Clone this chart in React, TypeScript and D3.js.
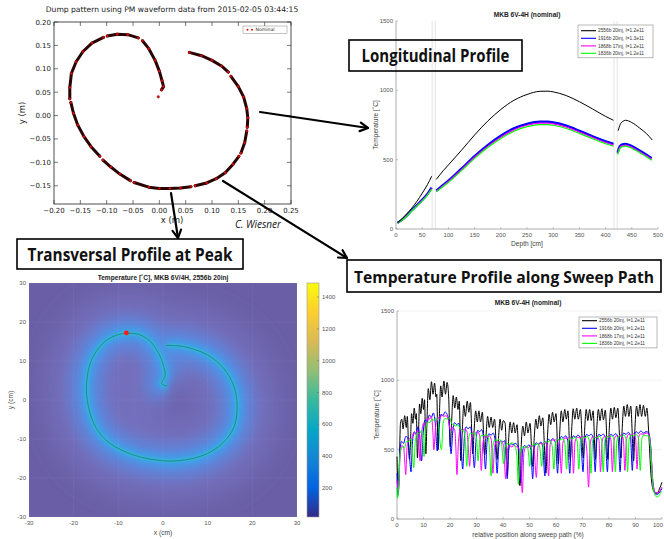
import React from 'react'
import * as d3 from 'd3'

type P = [number, number]

// ---------- dump pattern from PM waveform (metres) ----------
const dumpSegments: P[][] = [
  [[0.057, 0.135], [0.080, 0.128], [0.100, 0.118], [0.118, 0.106], [0.131, 0.093]],
  [[0.136, 0.084], [0.150, 0.062], [0.160, 0.040], [0.166, 0.015], [0.168, -0.005], [0.167, -0.025]],
  [[0.166, -0.033], [0.162, -0.058], [0.155, -0.080]],
  [[0.151, -0.087], [0.140, -0.104], [0.125, -0.122], [0.108, -0.135], [0.090, -0.144], [0.068, -0.150]],
  [[0.060, -0.152], [0.040, -0.155], [0.020, -0.156], [0.000, -0.156], [-0.020, -0.153], [-0.048, -0.143]],
  [[-0.055, -0.139], [-0.075, -0.125], [-0.092, -0.110], [-0.107, -0.095]],
  [[-0.113, -0.087], [-0.130, -0.066], [-0.143, -0.045], [-0.155, -0.020], [-0.163, 0.005], [-0.168, 0.028]],
  [[-0.170, 0.036], [-0.170, 0.060], [-0.167, 0.090], [-0.158, 0.115], [-0.145, 0.137], [-0.128, 0.155], [-0.106, 0.167]],
  [[-0.099, 0.170], [-0.080, 0.174], [-0.060, 0.173], [-0.040, 0.166]],
  [[-0.032, 0.160], [-0.020, 0.143], [-0.008, 0.118], [0.000, 0.095], [0.005, 0.075], [0.008, 0.062], [0.004, 0.055]],
  [[-0.002, 0.040]],
]
const dumpXTicks = [-0.2, -0.15, -0.1, -0.05, 0, 0.05, 0.1, 0.15, 0.2, 0.25]
const dumpYTicks = [-0.15, -0.1, -0.05, 0, 0.05, 0.1, 0.15, 0.2]

// ---------- longitudinal profile (depth cm, temperature C) ----------
const seriesColors = ['#000000', '#0000ff', '#ff00ff', '#00ff00']
const longLabels = ['2556b 20inj, I=1.2e11', '1916b 20inj, I=1.3e11', '1868b 17inj, I=1.2e11', '1836b 20inj, I=1.2e11']
const long2556: P[][] = [
  [[3, 45], [10, 68], [20, 108], [30, 150], [40, 200], [50, 258], [60, 320], [68, 380]],
  [[77, 358], [90, 420], [100, 462], [125, 568], [150, 678], [175, 778], [200, 862], [225, 928], [250, 970], [275, 993], [290, 994], [300, 989], [325, 962], [350, 918], [375, 866], [400, 812], [415, 784]],
  [[424, 709], [428, 755], [433, 776], [438, 784], [450, 768], [465, 728], [478, 688], [489, 642]],
]
const long1916: P[][] = [
  [[3, 45], [10, 62], [20, 95], [30, 135], [40, 172], [50, 210], [60, 252], [68, 298]],
  [[77, 276], [90, 318], [100, 348], [125, 435], [150, 525], [175, 605], [200, 672], [225, 725], [250, 758], [275, 773], [290, 773], [300, 768], [325, 745], [350, 708], [375, 668], [400, 632], [415, 613]],
  [[423, 550], [427, 595], [432, 610], [438, 613], [450, 598], [465, 565], [478, 535], [488, 510]],
]
const long1868: P[][] = [
  [[3, 44], [10, 60], [20, 92], [30, 132], [40, 168], [50, 206], [60, 248], [68, 292]],
  [[77, 272], [90, 312], [100, 342], [125, 428], [150, 517], [175, 596], [200, 662], [225, 715], [250, 748], [275, 763], [290, 763], [300, 758], [325, 735], [350, 699], [375, 660], [400, 624], [415, 605]],
  [[423, 543], [427, 587], [432, 602], [438, 605], [450, 590], [465, 557], [478, 528], [488, 503]],
]
const long1836: P[][] = [
  [[3, 43], [10, 59], [20, 90], [30, 130], [40, 166], [50, 203], [60, 245], [68, 288]],
  [[77, 268], [90, 307], [100, 336], [125, 421], [150, 509], [175, 587], [200, 652], [225, 705], [250, 738], [275, 753], [290, 753], [300, 748], [325, 725], [350, 690], [375, 651], [400, 615], [415, 597]],
  [[423, 536], [427, 580], [432, 594], [438, 597], [450, 582], [465, 550], [478, 521], [488, 496]],
]
const longSeries = [long2556, long1916, long1868, long1836]
const longXTicks = [0, 50, 100, 150, 200, 250, 300, 350, 400, 450, 500]
const tempTicks = [0, 500, 1000, 1500]
const gapBands = [69, 75, 416, 422]

// ---------- transversal profile at peak (cm) ----------
const transPath: P[] = [
  [0.7, 14.0], [4.6, 13.7], [9.9, 11.6], [13.6, 8.1], [15.9, 3.4], [16.6, -1.7], [15.9, -6.9], [13.3, -11.1],
  [9.2, -14.1], [3.2, -15.6], [-1.4, -15.4], [-6.6, -14.1], [-11.9, -11.1], [-14.9, -7.3], [-16.7, -1.7],
  [-17.1, 4.3], [-16.0, 10.3], [-13.4, 14.6], [-10.7, 16.5], [-8.1, 17.1], [-5.1, 16.7], [-2.5, 14.6],
  [-0.6, 11.1], [0.15, 8.6], [0.5, 6.4], [0.0, 5.1], [-0.3, 4.1], [0.9, 3.6],
]
const peakPoint: P = [-8.2, 17.2]
const transTicks = [-30, -20, -10, 0, 10, 20, 30]
const cbDomain: P = [18, 1488]
const cbTicks = [200, 400, 600, 800, 1000, 1200, 1400]

// ---------- temperature along sweep path (% , C) ----------
const sweepLabels = ['2556b 20inj, I=1.2e11', '1916b 20inj, I=1.2e11', '1868b 17inj, I=1.2e11', '1836b 20inj, I=1.2e11']
const sweep2556: P[] = [
  [0, 450], [0.4, 230], [0.8, 320], [1.3, 690], [1.8, 720], [2.3, 650], [2.9, 745], [3.5, 660], [3.9, 740], [4.3, 560], [4.7, 430],
  [5.1, 560], [5.5, 760], [6.0, 690], [6.5, 800], [7.0, 720], [7.3, 760], [7.7, 440],
  [8.1, 600], [8.5, 830], [9.0, 760], [9.5, 870], [10.0, 790], [10.4, 860], [10.9, 470],
  [11.3, 700], [11.8, 940], [12.4, 860], [13.0, 990], [13.6, 900], [14.2, 980], [14.7, 880], [15.0, 900], [15.5, 500],
  [15.9, 700], [16.5, 960], [17.0, 880], [17.7, 995], [18.3, 900], [18.9, 985], [19.5, 880], [20.1, 520],
  [20.6, 700], [21.2, 890], [21.8, 800], [22.4, 880], [23.0, 790], [23.5, 850], [24.1, 420],
  [24.6, 620], [25.2, 820], [25.8, 740], [26.5, 850], [27.1, 770], [27.7, 840], [28.6, 470],
  [29.1, 640], [29.7, 780], [30.3, 700], [30.9, 780], [31.5, 700], [32.2, 770], [33.1, 460],
  [33.6, 600], [34.2, 740], [34.8, 660], [35.5, 735], [36.1, 660], [36.8, 720], [37.8, 430],
  [38.3, 580], [38.9, 720], [39.5, 640], [40.1, 710], [40.8, 690], [41.6, 310],
  [42.1, 560], [42.7, 700], [43.3, 620], [44.0, 695], [44.6, 620], [45.3, 680], [46.4, 240],
  [46.9, 540], [47.5, 670], [48.1, 600], [48.8, 700], [49.4, 620], [50.2, 690], [51.2, 380],
  [51.8, 590], [52.4, 720], [53.0, 650], [53.7, 745], [54.3, 670], [55.0, 730], [56.2, 330],
  [56.8, 600], [57.4, 755], [58.0, 680], [58.7, 770], [59.3, 700], [60.0, 760], [60.9, 400],
  [61.4, 620], [62.0, 780], [62.6, 700], [63.3, 790], [63.9, 720], [64.5, 780], [65.4, 430],
  [65.9, 640], [66.5, 795], [67.1, 720], [67.8, 800], [68.4, 720], [69.2, 790], [70.3, 440],
  [70.8, 640], [71.4, 790], [72.0, 710], [72.7, 790], [73.3, 710], [74.0, 780], [74.9, 430],
  [75.4, 650], [76.0, 790], [76.6, 710], [77.3, 795], [77.9, 715], [78.6, 785], [79.6, 430],
  [80.1, 650], [80.7, 800], [81.3, 720], [82.0, 805], [82.6, 730], [83.3, 800], [84.5, 440],
  [85.0, 660], [85.6, 815], [86.2, 740], [86.9, 825], [87.5, 740], [88.2, 815], [89.3, 420],
  [89.8, 660], [90.4, 815], [91.0, 740], [91.7, 825], [92.3, 740], [93.0, 820], [93.7, 740], [94.3, 800],
  [95.0, 620], [95.8, 330], [96.5, 220], [97.3, 190], [98.2, 185], [99.0, 215], [100, 265],
]
const sweep1916: P[] = [
  [0, 330], [0.3, 170], [0.7, 260], [1.1, 500], [1.8, 560], [2.5, 545], [3.3, 595], [4.0, 590], [4.6, 480], [5.3, 340],
  [5.8, 540], [6.5, 630], [7.2, 615], [7.9, 665], [8.5, 610], [9.3, 420],
  [9.8, 600], [10.6, 715], [11.4, 700], [12.2, 750], [13.0, 735], [13.7, 765], [14.4, 700], [15.2, 490],
  [15.8, 640], [16.6, 755], [17.4, 745], [18.1, 772], [18.9, 755], [19.6, 700], [20.4, 470],
  [21.0, 620], [21.7, 695], [22.5, 680], [23.3, 690], [24.0, 600], [24.8, 360],
  [25.4, 580], [26.1, 665], [26.8, 650], [27.6, 665], [28.3, 600], [29.2, 370],
  [29.8, 560], [30.5, 640], [31.2, 630], [32.0, 645], [32.6, 590], [33.4, 360],
  [34.0, 560], [34.7, 615], [35.5, 605], [36.3, 620], [37.0, 570], [37.8, 330],
  [38.4, 520], [39.1, 565], [39.9, 555], [40.6, 565], [41.0, 500], [41.6, 290],
  [42.2, 500], [42.9, 545], [43.7, 535], [44.6, 545], [45.8, 520], [46.8, 260],
  [47.4, 490], [48.1, 530], [48.9, 520], [49.8, 535], [50.5, 500], [51.2, 290],
  [51.8, 510], [52.6, 550], [53.4, 540], [54.3, 555], [55.0, 520], [55.8, 310],
  [56.4, 530], [57.1, 575], [57.9, 565], [58.8, 580], [59.8, 550], [60.6, 330],
  [61.2, 550], [62.0, 595], [62.8, 585], [63.6, 600], [64.4, 570], [65.2, 330],
  [65.8, 560], [66.6, 600], [67.4, 590], [68.3, 605], [69.3, 580], [70.2, 340],
  [70.8, 570], [71.6, 610], [72.4, 600], [73.2, 612], [74.0, 590], [74.8, 340],
  [75.4, 570], [76.2, 610], [77.0, 600], [77.8, 612], [78.6, 590], [79.4, 340],
  [80.0, 575], [80.8, 612], [81.6, 600], [82.5, 615], [83.4, 590], [84.2, 340],
  [84.8, 580], [85.6, 620], [86.4, 610], [87.3, 625], [88.1, 600], [88.8, 350],
  [89.4, 590], [90.2, 630], [91.1, 618], [92.0, 635], [93.0, 620], [94.0, 630], [94.8, 625],
  [95.6, 560], [96.4, 300], [97.2, 190], [97.9, 175], [98.8, 185], [99.5, 205], [100, 220],
]
const sweep1868: P[] = [
  [0, 280], [0.6, 200], [1.1, 430], [1.8, 530], [2.5, 520], [2.9, 420], [3.3, 320], [3.8, 520], [4.6, 580], [5.4, 570], [6.2, 620], [7.0, 610], [7.8, 640], [8.2, 560], [8.7, 420],
  [9.2, 590], [10.0, 690], [10.8, 680], [11.6, 730], [12.4, 720], [13.0, 740], [13.5, 640], [13.9, 500],
  [14.5, 650], [15.3, 730], [16.1, 725], [16.9, 750], [17.7, 740], [18.5, 745], [19.3, 720], [20.2, 640], [21.0, 660], [21.8, 640], [22.2, 520], [22.6, 320],
  [23.2, 560], [24.0, 650], [24.8, 640], [25.6, 650], [26.4, 630], [26.9, 520], [27.4, 380],
  [28.0, 560], [28.8, 630], [29.6, 620], [30.4, 630], [31.2, 600], [31.8, 350],
  [32.4, 540], [33.2, 600], [34.0, 590], [34.8, 600], [35.6, 570], [36.2, 330],
  [36.8, 520], [37.6, 560], [38.4, 550], [39.2, 560], [40.2, 530], [41.0, 290],
  [41.6, 490], [42.4, 530], [43.3, 520], [44.2, 530], [45.2, 520], [46.4, 500], [47.3, 190],
  [47.9, 480], [48.7, 520], [49.6, 515], [50.5, 530], [51.6, 520], [52.6, 300],
  [53.2, 520], [54.0, 545], [54.9, 540], [55.8, 555], [56.5, 530], [57.2, 310],
  [57.8, 540], [58.6, 570], [59.5, 565], [60.4, 580], [61.3, 560], [62.0, 330],
  [62.6, 550], [63.4, 585], [64.3, 580], [65.2, 590], [66.0, 570], [66.6, 330],
  [67.2, 560], [68.0, 590], [68.9, 585], [69.8, 595], [70.8, 590], [71.6, 500], [72.3, 230],
  [72.9, 540], [73.7, 590], [74.6, 585], [75.5, 595], [76.2, 570], [76.8, 340],
  [77.4, 560], [78.2, 595], [79.1, 590], [80.0, 600], [80.7, 575], [81.3, 340],
  [81.9, 565], [82.7, 600], [83.6, 595], [84.5, 605], [85.4, 580], [86.0, 350],
  [86.6, 575], [87.4, 610], [88.3, 605], [89.2, 615], [90.0, 590], [90.6, 360],
  [91.2, 590], [92.0, 615], [93.0, 610], [94.0, 620], [95.0, 610], [95.8, 500], [96.6, 260], [97.6, 190], [98.6, 190], [99.4, 210], [100, 230],
]
const sweep1836: P[] = [
  [0, 230], [0.2, 150], [0.7, 260], [1.2, 480], [2.0, 520], [2.8, 510], [3.6, 560], [4.4, 560], [5.2, 580], [5.8, 480], [6.3, 370],
  [6.9, 560], [7.7, 620], [8.5, 615], [9.3, 640], [9.8, 560], [10.2, 450],
  [10.8, 640], [11.6, 700], [12.4, 695], [13.2, 720], [14.0, 710], [14.8, 730], [15.6, 700], [16.2, 560], [16.8, 500],
  [17.4, 690], [18.2, 725], [19.0, 720], [19.8, 730], [20.6, 690], [21.4, 680], [22.2, 670], [23.0, 680], [23.8, 650], [24.6, 640], [25.4, 630], [25.9, 520], [26.3, 380],
  [26.9, 560], [27.7, 620], [28.5, 615], [29.3, 625], [30.0, 580], [30.6, 420],
  [31.2, 560], [32.0, 605], [32.8, 600], [33.6, 610], [34.4, 590], [35.0, 480], [35.5, 310],
  [36.1, 520], [36.9, 570], [37.7, 565], [38.5, 575], [39.4, 550], [40.2, 400],
  [40.8, 520], [41.6, 545], [42.5, 540], [43.4, 550], [44.4, 530], [45.2, 460], [45.8, 250],
  [46.4, 480], [47.2, 520], [48.1, 515], [49.0, 525], [49.6, 480], [50.1, 380],
  [50.7, 510], [51.5, 540], [52.4, 535], [53.3, 545], [54.0, 500], [54.6, 380],
  [55.2, 530], [56.0, 560], [56.9, 555], [57.8, 565], [58.6, 520], [59.2, 360],
  [59.8, 540], [60.6, 575], [61.5, 570], [62.4, 580], [63.3, 550], [64.0, 360],
  [64.6, 550], [65.4, 585], [66.3, 580], [67.2, 590], [68.0, 560], [68.6, 360],
  [69.2, 560], [70.0, 590], [70.9, 585], [71.8, 595], [72.6, 560], [73.2, 330],
  [73.8, 560], [74.6, 590], [75.5, 585], [76.4, 595], [77.2, 570], [77.8, 340],
  [78.4, 565], [79.2, 595], [80.1, 590], [81.0, 600], [81.8, 575], [82.4, 340],
  [83.0, 570], [83.8, 600], [84.7, 595], [85.6, 605], [86.4, 580], [87.0, 340],
  [87.6, 575], [88.4, 605], [89.3, 600], [90.2, 610], [91.1, 585], [91.8, 350],
  [92.4, 580], [93.2, 605], [94.1, 600], [95.0, 600], [95.8, 480], [96.6, 230], [97.9, 160], [98.8, 165], [99.5, 190], [100, 200],
]
const sweepSeries = [sweep2556, sweep1916, sweep1868, sweep1836]
const sweepXTicks = [0, 10, 20, 30, 40, 50, 60, 70, 80, 90, 100]

// parula-like colour map stops for the colour bar
const parula = ['#352a87', '#0363e1', '#1485d4', '#06a7c6', '#38b99e', '#92bf73', '#d9ba56', '#fcce2e', '#f9fb0e']

const MPL = 'DejaVu Sans, sans-serif'
const ML = 'Liberation Sans, Arial, sans-serif'
const CAL = 'Open Sans, Lato, sans-serif'
const axisGray = '#9a9a9a'
const tickText = '#555'

function Arrow({ x1, y1, x2, y2 }: { x1: number; y1: number; x2: number; y2: number }) {
  const a = Math.atan2(y2 - y1, x2 - x1)
  const L = 9
  const s = 0.5
  const p1 = [x2 - L * Math.cos(a - s), y2 - L * Math.sin(a - s)]
  const p2 = [x2 - L * Math.cos(a + s), y2 - L * Math.sin(a + s)]
  return (
    <g stroke="#000" strokeWidth={2.2} fill="none" strokeLinecap="round" strokeLinejoin="round">
      <line x1={x1} y1={y1} x2={x2} y2={y2} />
      <polyline points={`${p1[0]},${p1[1]} ${x2},${y2} ${p2[0]},${p2[1]}`} />
    </g>
  )
}

function LabelBox({ x, y, w, h, text, tw, base, fs = 17 }: { x: number; y: number; w: number; h: number; text: string; tw: number; base: number; fs?: number }) {
  return (
    <g>
      <rect x={x} y={y} width={w} height={h} fill="none" stroke="#000" strokeWidth={1.6} />
      <text x={x + w / 2} y={base} textAnchor="middle" fontFamily={CAL} fontWeight={700} fontSize={fs}
        textLength={tw} lengthAdjust="spacingAndGlyphs" fill="#111">{text}</text>
    </g>
  )
}

function DumpPanel() {
  const x = d3.scaleLinear().domain([-0.2, 0.25]).range([54, 291])
  const y = d3.scaleLinear().domain([-0.189, 0.2]).range([204, 22])
  const line = d3.line<P>().x(d => x(d[0])).y(d => y(d[1]))
  const fmt = (v: number) => d3.format('.2f')(v).replace('-', '\u2212')
  return (
    <g>
      <text x={172} y={12} textAnchor="middle" fontFamily={MPL} fontSize={7.6} fill="#222">
        Dump pattern using PM waveform data from 2015-02-05 03:44:15
      </text>
      <rect x={54} y={22} width={237} height={182} fill="#fff" stroke="#222" strokeWidth={0.8} />
      {dumpXTicks.map(t => (
        <g key={'dx' + t}>
          <line x1={x(t)} x2={x(t)} y1={204} y2={200} stroke="#222" strokeWidth={0.6} />
          <line x1={x(t)} x2={x(t)} y1={22} y2={26} stroke="#222" strokeWidth={0.6} />
          <text x={x(t)} y={212.5} textAnchor="middle" fontFamily={MPL} fontSize={7} fill="#222">{fmt(t)}</text>
        </g>
      ))}
      {dumpYTicks.map(t => (
        <g key={'dy' + t}>
          <line x1={54} x2={58} y1={y(t)} y2={y(t)} stroke="#222" strokeWidth={0.6} />
          <line x1={291} x2={287} y1={y(t)} y2={y(t)} stroke="#222" strokeWidth={0.6} />
          <text x={51} y={y(t) + 2.5} textAnchor="end" fontFamily={MPL} fontSize={7} fill="#222">{fmt(t)}</text>
        </g>
      ))}
      <text x={172} y={223} textAnchor="middle" fontFamily={MPL} fontSize={8.5} fill="#222">x (m)</text>
      <text transform={`translate(25,113) rotate(-90)`} textAnchor="middle" fontFamily={MPL} fontSize={8.5} fill="#222">y (m)</text>
      {dumpSegments.map((seg, i) =>
        seg.length > 1 ? (
          <path key={'ds' + i} d={line(seg) || ''} fill="none" stroke="#2a0404" strokeWidth={3} strokeLinecap="round" strokeLinejoin="round" />
        ) : null
      )}
      {dumpSegments.flat().map((p, i) => (
        <circle key={'dp' + i} cx={x(p[0])} cy={y(p[1])} r={1.3} fill="#e01010" stroke="#400" strokeWidth={0.3} />
      ))}
      <rect x={243} y={26} width={44} height={7.5} fill="#fff" stroke="#888" strokeWidth={0.5} />
      <circle cx={247.5} cy={29.8} r={1} fill="#e01010" />
      <circle cx={252} cy={29.8} r={1} fill="#e01010" />
      <text x={255.5} y={31.4} fontFamily={MPL} fontSize={4.6} fill="#222">Nominal</text>
      <text x={258} y={228} textAnchor="middle" fontFamily={CAL} fontStyle="italic" fontSize={10} fill="#111">C. Wiesner</text>
    </g>
  )
}

function Legend({ x0, y0, w, rows, labels }: { x0: number; y0: number; w: number; rows: number[]; labels: string[] }) {
  const h = rows[rows.length - 1] - y0 + 4.5
  return (
    <g>
      <rect x={x0} y={y0} width={w} height={h} fill="#fff" stroke="#8a8a8a" strokeWidth={0.6} />
      {labels.map((l, i) => (
        <g key={l + i}>
          <line x1={x0 + 3} x2={x0 + 18} y1={rows[i]} y2={rows[i]} stroke={seriesColors[i]} strokeWidth={1.1} />
          <text x={x0 + 20} y={rows[i] + 1.7} fontFamily={ML} fontSize={4.8} fill="#333">{l}</text>
        </g>
      ))}
    </g>
  )
}

function MatlabAxes({ x, y, xt, yt, x0, x1, y0, y1, grid }: any) {
  return (
    <g>
      {grid && yt.map((t: number) => (
        <line key={'g' + t} x1={x0} x2={x1} y1={y(t)} y2={y(t)} stroke="#ececec" strokeWidth={0.6} />
      ))}
      <line x1={x0} x2={x0} y1={y0} y2={y1} stroke={axisGray} strokeWidth={0.8} />
      <line x1={x0} x2={x1} y1={y0} y2={y0} stroke={axisGray} strokeWidth={0.8} />
      {xt.map((t: number, i: number) => (
        <g key={'x' + t}>
          <line x1={x(t)} x2={x(t)} y1={y0} y2={y0 - 2} stroke={axisGray} strokeWidth={0.6} />
          <text x={i === xt.length - 1 && x(t) > 655 ? 663 : x(t)} y={y0 + 8}
            textAnchor={i === xt.length - 1 && x(t) > 655 ? 'end' : 'middle'}
            fontFamily={ML} fontSize={6} fill={tickText}>{t}</text>
        </g>
      ))}
      {yt.map((t: number) => (
        <g key={'y' + t}>
          <line x1={x0} x2={x0 + 2} y1={y(t)} y2={y(t)} stroke={axisGray} strokeWidth={0.6} />
          <text x={x0 - 3} y={y(t) + 2} textAnchor="end" fontFamily={ML} fontSize={6} fill={tickText}>{t}</text>
        </g>
      ))}
    </g>
  )
}

function LongPanel() {
  const x = d3.scaleLinear().domain([0, 500]).range([396, 658])
  const y = d3.scaleLinear().domain([0, 1500]).range([229, 21])
  const line = d3.line<P>().x(d => x(d[0])).y(d => y(d[1])).curve(d3.curveMonotoneX)
  const order = [1, 2, 3, 0]
  const widths = [1, 2.4, 1.2, 1.2]
  return (
    <g>
      {gapBands.map(b => (
        <line key={'b' + b} x1={x(b)} x2={x(b)} y1={21} y2={229} stroke="#e4e4e4" strokeWidth={1} />
      ))}
      <MatlabAxes x={x} y={y} xt={longXTicks} yt={tempTicks} x0={396} x1={658} y0={229} y1={21} />
      {order.map(i =>
        longSeries[i].map((seg, j) => (
          <path key={'l' + i + j} d={line(seg) || ''} fill="none" stroke={seriesColors[i]} strokeWidth={widths[i]} />
        ))
      )}
      <text x={527} y={17} textAnchor="middle" fontFamily={ML} fontWeight="bold" fontSize={6.6} fill="#222">MKB 6V-4H (nominal)</text>
      <text x={527} y={246} textAnchor="middle" fontFamily={ML} fontSize={6.6} fill="#444">Depth [cm]</text>
      <text transform={`translate(378,125) rotate(-90)`} textAnchor="middle" fontFamily={ML} fontSize={6.6} fill="#444">Temperature [˚C]</text>
      <Legend x0={578} y0={25} w={75} rows={[30.7, 38.3, 45.9, 53.3]} labels={longLabels} />
    </g>
  )
}

function SweepPanel() {
  const x = d3.scaleLinear().domain([0, 100]).range([397, 662])
  const y = d3.scaleLinear().domain([0, 1500]).range([519, 311])
  const line = d3.line<P>().x(d => x(d[0])).y(d => y(d[1])).curve(d3.curveMonotoneX)
  return (
    <g>
      <MatlabAxes x={x} y={y} xt={sweepXTicks} yt={tempTicks} x0={397} x1={662} y0={519} y1={311} grid />
      {sweepSeries.map((s, i) => (
        <path key={'s' + i} d={line(s) || ''} fill="none" stroke={seriesColors[i]} strokeWidth={1} strokeLinejoin="round" />
      ))}
      <text x={528} y={305} textAnchor="middle" fontFamily={ML} fontWeight="bold" fontSize={6.6} fill="#222">MKB 6V-4H (nominal)</text>
      <text x={528} y={537} textAnchor="middle" fontFamily={ML} fontSize={6.6} fill="#444">relative position along sweep path (%)</text>
      <text transform={`translate(379,415) rotate(-90)`} textAnchor="middle" fontFamily={ML} fontSize={6.6} fill="#444">Temperature [˚C]</text>
      <Legend x0={579} y0={317} w={78} rows={[320.7, 328.3, 335.9, 343.4]} labels={sweepLabels} />
    </g>
  )
}

function TransPanel() {
  const x = d3.scaleLinear().domain([-30, 30]).range([29, 297])
  const y = d3.scaleLinear().domain([-30, 30]).range([517, 283])
  const line = d3.line<P>().x(d => x(d[0])).y(d => y(d[1])).curve(d3.curveCatmullRom.alpha(0.5))
  const d = line(transPath) || ''
  const cb = d3.scaleLinear().domain(cbDomain).range([517, 283])
  return (
    <g>
      <defs>
        <clipPath id="hmClip"><rect x={29} y={283} width={268} height={234} /></clipPath>
        <filter id="bl12" x="-50%" y="-50%" width="200%" height="200%"><feGaussianBlur stdDeviation={14} /></filter>
        <filter id="bl6" x="-50%" y="-50%" width="200%" height="200%"><feGaussianBlur stdDeviation={7} /></filter>
        <filter id="bl3" x="-50%" y="-50%" width="200%" height="200%"><feGaussianBlur stdDeviation={3} /></filter>
        <filter id="bl1" x="-50%" y="-50%" width="200%" height="200%"><feGaussianBlur stdDeviation={1.2} /></filter>
        <linearGradient id="parula" x1="0" y1="1" x2="0" y2="0">
          {parula.map((c, i) => <stop key={c} offset={i / (parula.length - 1)} stopColor={c} />)}
        </linearGradient>
      </defs>
      <g clipPath="url(#hmClip)">
        <rect x={29} y={283} width={268} height={234} fill="#6a5fa6" />
        <path d={d} fill="none" stroke="#7a7ccc" strokeWidth={80} strokeOpacity={0.6} filter="url(#bl12)" />
        <path d={d} fill="none" stroke="#5b88de" strokeWidth={34} strokeOpacity={0.95} filter="url(#bl6)" />
        <path d={d} fill="none" stroke="#3f9fea" strokeWidth={12} filter="url(#bl3)" />
        <path d={d} fill="none" stroke="#35b6cf" strokeWidth={3.5} filter="url(#bl1)" />
        <path d={d} fill="none" stroke="#1b8c94" strokeWidth={1} />
        {transTicks.map(t => (
          <g key={'hg' + t}>
            <line x1={x(t)} x2={x(t)} y1={283} y2={517} stroke="#fff" strokeOpacity={0.08} strokeWidth={0.6} />
            <line x1={29} x2={297} y1={y(t)} y2={y(t)} stroke="#fff" strokeOpacity={0.08} strokeWidth={0.6} />
          </g>
        ))}
        <circle cx={x(peakPoint[0])} cy={y(peakPoint[1])} r={2.4} fill="#ff1a1a" />
      </g>
      {transTicks.map(t => (
        <g key={'ht' + t}>
          <text x={x(t)} y={525} textAnchor="middle" fontFamily={ML} fontSize={6} fill={tickText}>{t}</text>
          <text x={26} y={y(t) + 2} textAnchor="end" fontFamily={ML} fontSize={6} fill={tickText}>{t}</text>
        </g>
      ))}
      <text x={163} y={280} textAnchor="middle" fontFamily={ML} fontWeight="bold" fontSize={6.6} fill="#222">Temperature [˚C], MKB 6V/4H, 2556b 20inj</text>
      <text x={163} y={535} textAnchor="middle" fontFamily={ML} fontSize={6.6} fill="#444">x (cm)</text>
      <text transform={`translate(13,400) rotate(-90)`} textAnchor="middle" fontFamily={ML} fontSize={6.6} fill="#444">y (cm)</text>
      <rect x={307} y={283} width={12} height={234} fill="url(#parula)" stroke={axisGray} strokeWidth={0.6} />
      {cbTicks.map(t => (
        <g key={'cb' + t}>
          <line x1={317} x2={319} y1={cb(t)} y2={cb(t)} stroke="#666" strokeWidth={0.5} />
          <text x={322} y={cb(t) + 2} fontFamily={ML} fontSize={6} fill={tickText}>{t}</text>
        </g>
      ))}
    </g>
  )
}

export default function App() {
  return (
    <svg width={664} height={539} viewBox="0 0 664 539"
      style={{ position: 'absolute', left: 0, top: 0, background: '#fff' }}>
      <rect x={0} y={0} width={664} height={539} fill="#fff" />
      <DumpPanel />
      <LongPanel />
      <TransPanel />
      <SweepPanel />
      <LabelBox x={349} y={40} w={173} h={31} text="Longitudinal Profile" tw={148} base={62} />
      <LabelBox x={17} y={239} w={226} h={30} text="Transversal Profile at Peak" tw={205} base={261} />
      <LabelBox x={347} y={260} w={314} h={32} text="Temperature Profile along Sweep Path" tw={300} base={282.5} fs={16} />
      <Arrow x1={260} y1={112} x2={368} y2={128} />
      <Arrow x1={223} y1={181} x2={347} y2={258} />
      <Arrow x1={171} y1={193} x2={178} y2={238} />
    </svg>
  )
}
